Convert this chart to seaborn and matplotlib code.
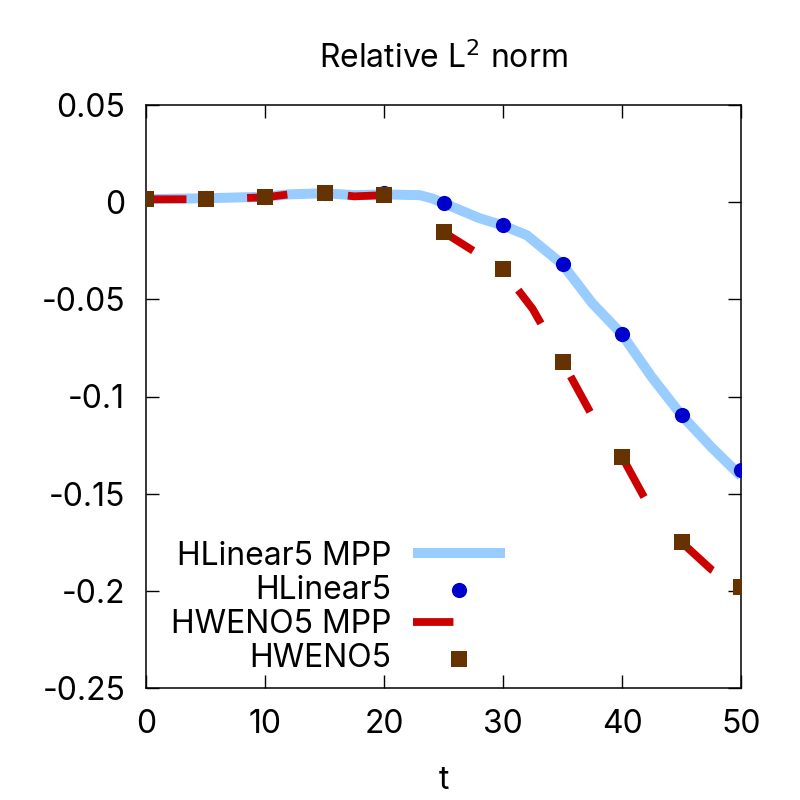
import matplotlib as mpl
import matplotlib.pyplot as plt
import seaborn as sns

# HLinear5 MPP (solid light-blue curve)
T_HLIN_LINE = [0, 2.5, 5, 7.5, 10, 12, 15, 17.5, 20, 23, 24, 25, 28, 30, 32, 35, 37.5, 40, 42.5, 45, 47.5, 50]
HLIN_LINE = [0.0015, 0.0018, 0.002, 0.0024, 0.0028, 0.004, 0.0046, 0.0036, 0.004, 0.0036, 0.002, -0.0005,
             -0.0082, -0.012, -0.017, -0.032, -0.052, -0.068, -0.09, -0.1096, -0.126, -0.141]

# HLinear5 (blue circles)
T_MARK = [0, 5, 10, 15, 20, 25, 30, 35, 40, 45, 50]
HLIN_MARK = [0.0015, 0.002, 0.0028, 0.0046, 0.0045, -0.0005, -0.0118, -0.032, -0.068, -0.1096, -0.138]

# HWENO5 MPP (red dashed curve)
T_HWENO_LINE = [0, 2.5, 5, 7.5, 10, 12, 15, 17.5, 20, 22.5, 25, 27.5, 30, 32.5, 35, 37.5, 40, 42.5, 45, 47.5, 50]
HWENO_LINE = [0.0015, 0.0015, 0.0015, 0.002, 0.0025, 0.004, 0.0046, 0.003, 0.0036, -0.004, -0.0154, -0.025,
              -0.035, -0.055, -0.082, -0.110, -0.131, -0.159, -0.175, -0.189, -0.198]

# HWENO5 (brown squares)
HWENO_MARK = [0.0015, 0.0015, 0.0025, 0.0046, 0.0036, -0.0154, -0.0345, -0.082, -0.131, -0.175, -0.198]

X_TICKS = [0, 10, 20, 30, 40, 50]
Y_TICKS = [-0.25, -0.2, -0.15, -0.1, -0.05, 0, 0.05]
Y_TICK_LABELS = ["-0.25", "-0.2", "-0.15", "-0.1", "-0.05", "0", "0.05"]

FS = 23

sns.set_style("ticks")
mpl.rcParams.update({
    "font.family": ["Inter", "Liberation Sans", "DejaVu Sans"],
    "font.size": FS,
    "text.color": "black",
    "axes.labelcolor": "black",
    "axes.edgecolor": "black",
    "xtick.color": "black",
    "ytick.color": "black",
    "axes.linewidth": 1.1,
})

fig = plt.figure(figsize=(8, 8), dpi=100)
ax = fig.add_axes([0.1825, 0.14, 0.74375, 0.72875])

sns.lineplot(x=T_HLIN_LINE, y=HLIN_LINE, color="#99CCFF", linewidth=7.2,
             solid_capstyle="butt", label="HLinear5 MPP", ax=ax, zorder=2)
sns.scatterplot(x=T_MARK, y=HLIN_MARK, color="#0000CC", s=120, marker="o",
                linewidth=0, label="HLinear5", ax=ax, zorder=3)
sns.lineplot(x=T_HWENO_LINE, y=HWENO_LINE, color="#CC0000", linewidth=5.6,
             linestyle=(0, (5.2, 7.8)), label="HWENO5 MPP", ax=ax, zorder=4)
sns.scatterplot(x=T_MARK, y=HWENO_MARK, color="#663300", s=120, marker="s",
                linewidth=0, label="HWENO5", ax=ax, zorder=5)

ax.set_xlim(0, 50)
ax.set_ylim(-0.25, 0.05)
ax.set_xticks(X_TICKS)
ax.set_xticklabels([str(v) for v in X_TICKS])
ax.set_yticks(Y_TICKS)
ax.set_yticklabels(Y_TICK_LABELS)
ax.tick_params(direction="in", length=9.5, width=1.0, top=True, right=True, labelsize=FS)
ax.tick_params(axis="x", pad=15)
ax.tick_params(axis="y", pad=15)
for side in ["top", "right", "bottom", "left"]:
    ax.spines[side].set_visible(True)
    ax.spines[side].set_linewidth(1.1)

ax.set_xlabel("t", fontsize=FS, labelpad=18)
ax.set_ylabel("")
ax.set_title("Relative L$^2$ norm", fontsize=FS, pad=27)

ax.legend(loc="lower right", bbox_to_anchor=(0.647, -0.02), markerfirst=False,
          frameon=False, fontsize=FS, handlelength=2.88, handletextpad=0.69,
          labelspacing=0.1, borderpad=0.3, scatterpoints=1)

fig.savefig("out.png", dpi=100)
